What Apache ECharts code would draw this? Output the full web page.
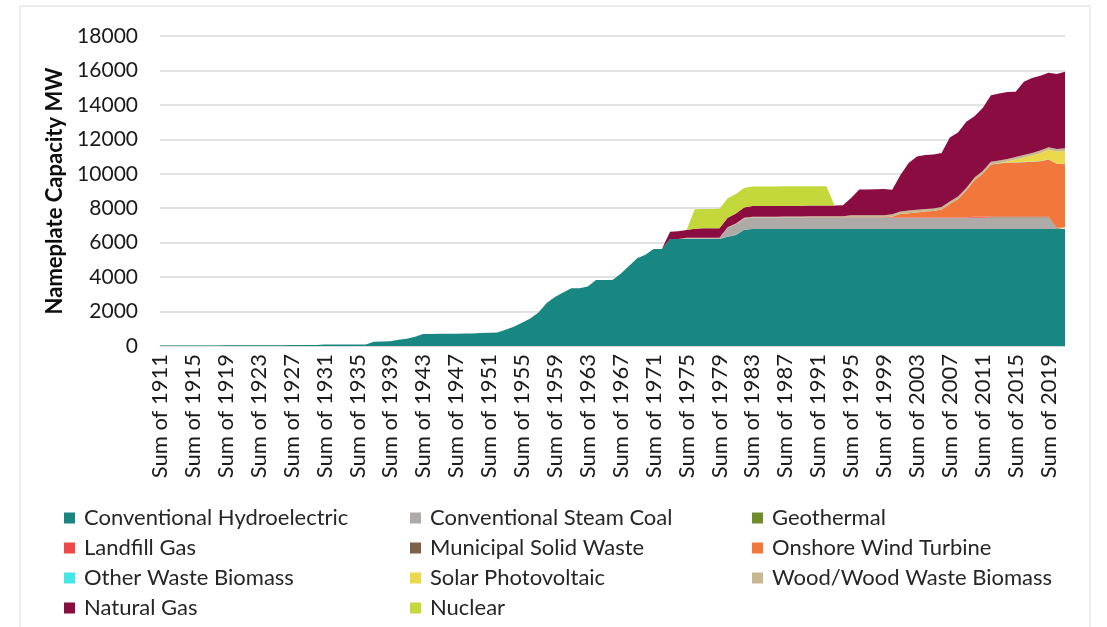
<!DOCTYPE html>
<html>
<head>
<meta charset="utf-8">
<title>Nameplate Capacity MW</title>
<script src="https://cdn.jsdelivr.net/npm/echarts@6/dist/echarts.min.js"></script>
<style>
  html, body { margin: 0; padding: 0; background: #fff; }
  #chart { width: 1107px; height: 627px; }
</style>
</head>
<body>
<div id="chart"></div>
<script>
// years 1911 .. 2021, one category per year
const years = []
for (let y = 1911; y <= 2021; y++) years.push('Sum of ' + y)

const yTicks = [0, 2000, 4000, 6000, 8000, 10000, 12000, 14000, 16000, 18000]

// values, MW, 1911..2021 (ten per row)
const hydro = [
  30, 30, 30, 30, 30, 30, 30, 30, 40, 40,
  40, 40, 40, 40, 40, 40, 60, 60, 60, 60,
  80, 80, 80, 80, 80, 80, 250, 260, 270, 360,
  420, 540, 690, 700, 705, 710, 715, 720, 730, 750,
  770, 790, 950, 1120, 1350, 1600, 1950, 2500, 2850, 3100,
  3350, 3350, 3450, 3830, 3830, 3830, 4200, 4640, 5100, 5300,
  5630, 5630, 6210, 6210, 6210, 6210, 6210, 6210, 6210, 6350,
  6450, 6750, 6800, 6800, 6800, 6800, 6800, 6800, 6800, 6800,
  6800, 6800, 6800, 6800, 6800, 6800, 6800, 6800, 6800, 6800,
  6800, 6800, 6800, 6800, 6800, 6800, 6800, 6800, 6800, 6800,
  6800, 6800, 6800, 6800, 6800, 6800, 6800, 6800, 6800, 6800,
  6800
]
const coal = [
  0, 0, 0, 0, 0, 0, 0, 0, 0, 0,
  0, 0, 0, 0, 0, 0, 0, 0, 0, 0,
  0, 0, 0, 0, 0, 0, 0, 0, 0, 0,
  0, 0, 0, 0, 0, 0, 0, 0, 0, 0,
  0, 0, 0, 0, 0, 0, 0, 0, 0, 0,
  0, 0, 0, 0, 0, 0, 0, 0, 0, 0,
  0, 0, 0, 0, 40, 40, 40, 40, 40, 500,
  620, 650, 650, 650, 650, 650, 650, 650, 650, 650,
  650, 650, 650, 650, 650, 650, 650, 650, 650, 650,
  650, 650, 650, 650, 650, 650, 650, 650, 650, 650,
  650, 650, 650, 650, 650, 650, 650, 650, 650, 0,
  0
]
const geothermal = [
  0, 0, 0, 0, 0, 0, 0, 0, 0, 0,
  0, 0, 0, 0, 0, 0, 0, 0, 0, 0,
  0, 0, 0, 0, 0, 0, 0, 0, 0, 0,
  0, 0, 0, 0, 0, 0, 0, 0, 0, 0,
  0, 0, 0, 0, 0, 0, 0, 0, 0, 0,
  0, 0, 0, 0, 0, 0, 0, 0, 0, 0,
  0, 0, 0, 0, 0, 0, 0, 0, 0, 0,
  0, 0, 0, 0, 0, 0, 0, 0, 0, 0,
  0, 0, 0, 0, 0, 0, 0, 0, 0, 0,
  0, 0, 0, 0, 0, 0, 0, 0, 0, 0,
  0, 30, 30, 30, 30, 30, 30, 30, 30, 30,
  30
]
const landfill = [
  0, 0, 0, 0, 0, 0, 0, 0, 0, 0,
  0, 0, 0, 0, 0, 0, 0, 0, 0, 0,
  0, 0, 0, 0, 0, 0, 0, 0, 0, 0,
  0, 0, 0, 0, 0, 0, 0, 0, 0, 0,
  0, 0, 0, 0, 0, 0, 0, 0, 0, 0,
  0, 0, 0, 0, 0, 0, 0, 0, 0, 0,
  0, 0, 0, 0, 0, 0, 0, 0, 0, 0,
  0, 0, 0, 0, 0, 0, 0, 0, 0, 10,
  10, 10, 10, 10, 10, 10, 10, 10, 10, 20,
  20, 20, 20, 20, 20, 20, 20, 20, 20, 35,
  35, 35, 35, 35, 35, 35, 35, 35, 35, 35,
  35
]
const msw = [
  0, 0, 0, 0, 0, 0, 0, 0, 0, 0,
  0, 0, 0, 0, 0, 0, 0, 0, 0, 0,
  0, 0, 0, 0, 0, 0, 0, 0, 0, 0,
  0, 0, 0, 0, 0, 0, 0, 0, 0, 0,
  0, 0, 0, 0, 0, 0, 0, 0, 0, 0,
  0, 0, 0, 0, 0, 0, 0, 0, 0, 0,
  0, 0, 0, 0, 0, 0, 0, 0, 0, 0,
  0, 0, 0, 0, 0, 0, 13, 13, 13, 13,
  13, 13, 13, 13, 13, 13, 13, 13, 13, 13,
  13, 13, 13, 13, 13, 13, 13, 13, 13, 13,
  13, 13, 13, 13, 13, 13, 13, 13, 13, 13,
  13
]
const wind = [
  0, 0, 0, 0, 0, 0, 0, 0, 0, 0,
  0, 0, 0, 0, 0, 0, 0, 0, 0, 0,
  0, 0, 0, 0, 0, 0, 0, 0, 0, 0,
  0, 0, 0, 0, 0, 0, 0, 0, 0, 0,
  0, 0, 0, 0, 0, 0, 0, 0, 0, 0,
  0, 0, 0, 0, 0, 0, 0, 0, 0, 0,
  0, 0, 0, 0, 0, 0, 0, 0, 0, 0,
  0, 0, 0, 0, 0, 0, 0, 0, 0, 0,
  0, 0, 0, 0, 0, 0, 0, 0, 0, 20,
  180, 230, 275, 320, 350, 440, 760, 1050, 1540, 2120,
  2500, 3010, 3070, 3120, 3130, 3140, 3170, 3200, 3300, 3700,
  3680
]
const otherBiomass = [
  0, 0, 0, 0, 0, 0, 0, 0, 0, 0,
  0, 0, 0, 0, 0, 0, 0, 0, 0, 0,
  0, 0, 0, 0, 0, 0, 0, 0, 0, 0,
  0, 0, 0, 0, 0, 0, 0, 0, 0, 0,
  0, 0, 0, 0, 0, 0, 0, 0, 0, 0,
  0, 0, 0, 0, 0, 0, 0, 0, 0, 0,
  0, 0, 0, 0, 0, 0, 0, 0, 0, 0,
  0, 0, 0, 0, 0, 0, 0, 0, 0, 0,
  0, 0, 0, 0, 0, 0, 0, 0, 0, 0,
  0, 0, 0, 0, 0, 0, 0, 0, 0, 10,
  10, 10, 10, 10, 10, 10, 10, 10, 10, 10,
  10
]
const solar = [
  0, 0, 0, 0, 0, 0, 0, 0, 0, 0,
  0, 0, 0, 0, 0, 0, 0, 0, 0, 0,
  0, 0, 0, 0, 0, 0, 0, 0, 0, 0,
  0, 0, 0, 0, 0, 0, 0, 0, 0, 0,
  0, 0, 0, 0, 0, 0, 0, 0, 0, 0,
  0, 0, 0, 0, 0, 0, 0, 0, 0, 0,
  0, 0, 0, 0, 0, 0, 0, 0, 0, 0,
  0, 0, 0, 0, 0, 0, 0, 0, 0, 0,
  0, 0, 0, 0, 0, 0, 0, 0, 0, 0,
  0, 0, 0, 0, 0, 0, 0, 0, 0, 0,
  0, 5, 10, 50, 160, 260, 350, 460, 550, 700,
  760
]
const wood = [
  0, 0, 0, 0, 0, 0, 0, 0, 0, 0,
  0, 0, 0, 0, 0, 0, 0, 0, 0, 0,
  0, 0, 0, 0, 0, 0, 0, 0, 0, 0,
  0, 0, 0, 0, 0, 0, 0, 0, 0, 0,
  0, 0, 0, 0, 0, 0, 0, 0, 0, 0,
  0, 0, 0, 0, 0, 0, 0, 0, 0, 0,
  0, 0, 0, 0, 40, 40, 40, 40, 40, 40,
  40, 40, 60, 60, 60, 60, 60, 60, 60, 60,
  60, 60, 60, 60, 120, 120, 120, 120, 120, 150,
  150, 150, 150, 150, 150, 150, 150, 150, 150, 150,
  150, 150, 150, 150, 150, 150, 150, 150, 150, 150,
  150
]
const gas = [
  0, 0, 0, 0, 0, 0, 0, 0, 0, 0,
  0, 0, 0, 0, 0, 0, 0, 0, 0, 0,
  0, 0, 0, 0, 0, 0, 0, 0, 0, 0,
  0, 0, 0, 0, 0, 0, 0, 0, 0, 0,
  0, 0, 0, 0, 0, 0, 0, 0, 0, 0,
  0, 0, 0, 0, 0, 0, 0, 0, 0, 0,
  0, 0, 430, 450, 450, 520, 540, 540, 550, 560,
  580, 600, 620, 620, 620, 620, 620, 620, 620, 620,
  620, 620, 620, 640, 1000, 1490, 1500, 1510, 1520, 1420,
  2120, 2760, 3090, 3140, 3140, 3135, 3710, 3720, 3850, 3560,
  3660, 3860, 3890, 3890, 3790, 4255, 4350, 4350, 4330, 4350,
  4450
]
const nuclear = [
  0, 0, 0, 0, 0, 0, 0, 0, 0, 0,
  0, 0, 0, 0, 0, 0, 0, 0, 0, 0,
  0, 0, 0, 0, 0, 0, 0, 0, 0, 0,
  0, 0, 0, 0, 0, 0, 0, 0, 0, 0,
  0, 0, 0, 0, 0, 0, 0, 0, 0, 0,
  0, 0, 0, 0, 0, 0, 0, 0, 0, 0,
  0, 0, 0, 0, 0, 1130, 1130, 1130, 1130, 1130,
  1130, 1130, 1130, 1130, 1130, 1130, 1130, 1130, 1130, 1130,
  1130, 1130, 0, 0, 0, 0, 0, 0, 0, 0,
  0, 0, 0, 0, 0, 0, 0, 0, 0, 0,
  0, 0, 0, 0, 0, 0, 0, 0, 0, 0,
  0
]

// stacking order = legend order
const seriesList = [
  { name: 'Conventional Hydroelectric', data: hydro, color: '#188781' },
  { name: 'Conventional Steam Coal', data: coal, color: '#aeaaa7' },
  { name: 'Geothermal', data: geothermal, color: '#6e8c2b' },
  { name: 'Landfill Gas', data: landfill, color: '#f04848' },
  { name: 'Municipal Solid Waste', data: msw, color: '#7c6147' },
  { name: 'Onshore Wind Turbine', data: wind, color: '#f2773b' },
  { name: 'Other Waste Biomass', data: otherBiomass, color: '#43e8e6' },
  { name: 'Solar Photovoltaic', data: solar, color: '#ecd94b' },
  { name: 'Wood/Wood Waste Biomass', data: wood, color: '#c8b892' },
  { name: 'Natural Gas', data: gas, color: '#8a0c40' },
  { name: 'Nuclear', data: nuclear, color: '#c4d83b' }
]

const font = 'Lato, "Open Sans", sans-serif'
const legendCols = [
  { left: 64, names: ['Conventional Hydroelectric', 'Landfill Gas', 'Other Waste Biomass', 'Natural Gas'] },
  { left: 410, names: ['Conventional Steam Coal', 'Municipal Solid Waste', 'Solar Photovoltaic', 'Nuclear'] },
  { left: 752, names: ['Geothermal', 'Onshore Wind Turbine', 'Wood/Wood Waste Biomass'] }
]

const chart = echarts.init(document.getElementById('chart'), null, { renderer: 'canvas' })
const option = {
  backgroundColor: '#fff',
  animation: false,
  graphic: [{
    type: 'rect',
    shape: { x: 20, y: 6, width: 1070, height: 640 },
    style: { fill: 'none', stroke: '#d9d9d9', lineWidth: 1 },
    silent: true
  }],
  grid: { left: 160, right: 42, top: 36, bottom: 281 },
  legend: legendCols.map(c => ({
    orient: 'vertical',
    left: c.left,
    top: 507,
    height: 200,
    padding: 0,
    itemGap: 8,
    itemWidth: 11,
    itemHeight: 11,
    icon: 'rect',
    selectedMode: false,
    data: c.names,
    textStyle: { fontFamily: font, fontSize: 22, lineHeight: 21, color: '#262626', padding: [0, 0, 0, 4] }
  })),
  xAxis: {
    type: 'category',
    data: years,
    boundaryGap: false,
    axisTick: { show: false },
    axisLine: { lineStyle: { color: '#d9d9d9' } },
    axisLabel: {
      interval: 3,
      rotate: 90,
      margin: 8,
      fontFamily: font,
      fontSize: 22,
      color: '#1a1a1a'
    }
  },
  yAxis: {
    type: 'value',
    min: yTicks[0],
    max: yTicks[yTicks.length - 1],
    interval: yTicks[1] - yTicks[0],
    name: 'Nameplate Capacity MW',
    nameLocation: 'middle',
    nameRotate: 90,
    nameGap: 92,
    nameTextStyle: { fontFamily: font, fontSize: 22, fontWeight: 'bold', color: '#0d0d0d' },
    axisLine: { show: false },
    axisTick: { show: false },
    splitLine: { lineStyle: { color: '#d9d9d9', width: 1.5 } },
    axisLabel: {
      margin: 22,
      fontFamily: font,
      fontSize: 21,
      color: '#1a1a1a',
      formatter: v => String(v)
    }
  },
  series: seriesList.map(s => ({
    name: s.name,
    type: 'line',
    stack: 'capacity',
    data: s.data,
    showSymbol: false,
    symbol: 'none',
    lineStyle: { width: 0 },
    areaStyle: { color: s.color, opacity: 1 },
    itemStyle: { color: s.color },
    emphasis: { disabled: true }
  }))
}
chart.setOption(option)
</script>
</body>
</html>
